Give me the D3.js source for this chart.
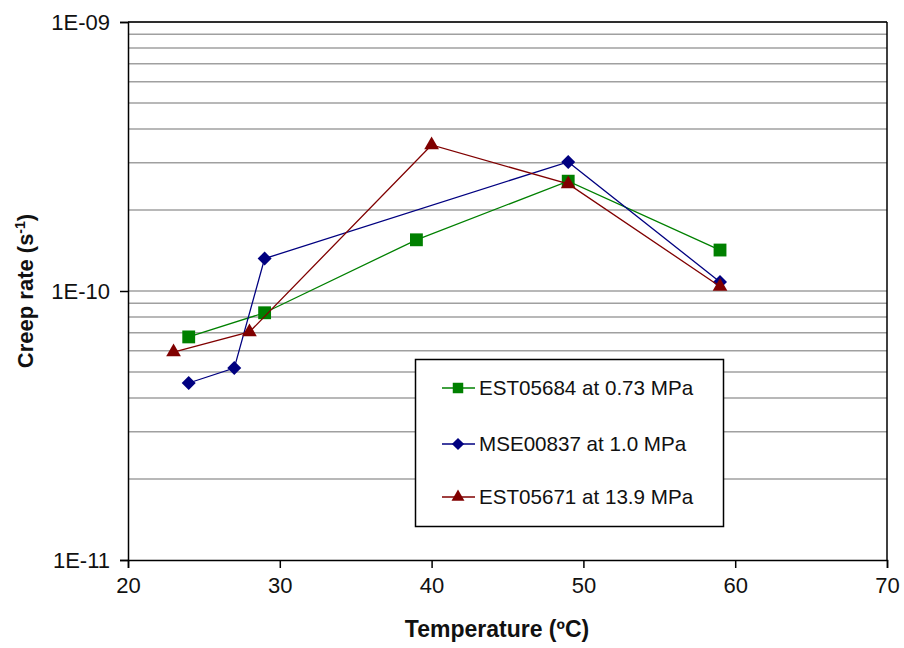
<!DOCTYPE html>
<html><head><meta charset="utf-8">
<script src="https://cdn.jsdelivr.net/npm/d3@7"></script>
<style>body{margin:0;background:#fff}svg{display:block;font-family:"Liberation Sans",Arial,sans-serif}</style>
</head><body><svg id="c" width="904" height="648"></svg>
<script>
const xTicks = [20, 30, 40, 50, 60, 70];
const yTicks = [1e-11, 1e-10, 1e-9];
const yTickLabels = ["1E-11", "1E-10", "1E-09"];
const seriesNames = ["EST05684 at 0.73 MPa", "MSE00837 at 1.0 MPa", "EST05671 at 13.9 MPa"];
const seriesColors = ["#008000", "#000080", "#800000"];
const seriesShapes = ["square", "diamond", "triangle"];
const estX1 = [24, 29, 39, 49, 59];
const estY1 = [6.75e-11, 8.3e-11, 1.55e-10, 2.56e-10, 1.42e-10];
const mseX = [24, 27, 29, 49, 59];
const mseY = [4.55e-11, 5.17e-11, 1.32e-10, 3.02e-10, 1.08e-10];
const estX2 = [23, 28, 40, 49, 59];
const estY2 = [5.93e-11, 7.04e-11, 3.49e-10, 2.5e-10, 1.04e-10];

const seriesX = [estX1, mseX, estX2];
const seriesY = [estY1, mseY, estY2];

const svg = d3.select("#c");
const L = 128, R = 887, T = 22, B = 560;
const x = d3.scaleLinear().domain([20, 70]).range([L, R]);
const y = d3.scaleLog().domain([1e-11, 1e-9]).range([B, T]);

// grid lines
const grid = [];
for (let d = -11; d < -9; d++) for (let m = 1; m <= 9; m++) grid.push(m * Math.pow(10, d));
grid.push(1e-9);
svg.append("g").selectAll("line").data(grid.filter(v => v > 1e-11)).join("line")
  .attr("x1", L).attr("x2", R).attr("y1", d => y(d)).attr("y2", d => y(d))
  .attr("stroke", "#a0a0a0").attr("stroke-width", 1.5);

// border
svg.append("line").attr("x1", R).attr("x2", R).attr("y1", T).attr("y2", B).attr("stroke", "#000").attr("stroke-width", 1.5);
svg.append("line").attr("x1", L).attr("x2", R).attr("y1", T).attr("y2", T).attr("stroke", "#000").attr("stroke-width", 1.5);

// axes
const xAxis = svg.append("g").attr("transform", `translate(0,${B})`)
  .call(d3.axisBottom(x).tickValues(xTicks).tickSize(8).tickPadding(9));
const yAxis = svg.append("g").attr("transform", `translate(${L},0)`)
  .call(d3.axisLeft(y).tickValues(yTicks).tickFormat((d, i) => yTickLabels[i]).tickSize(8).tickPadding(10));
[xAxis, yAxis].forEach(a => {
  a.select(".domain").attr("stroke", "#000").attr("stroke-width", 1.5);
  a.selectAll(".tick line").attr("stroke", "#000").attr("stroke-width", 1.5);
  a.selectAll("text").attr("font-size", 22).attr("fill", "#111").attr("font-family", "Liberation Sans, Arial, sans-serif");
});

// axis titles
svg.append("text").attr("x", 497).attr("y", 637).attr("text-anchor", "middle")
  .attr("font-size", 23).attr("font-weight", "bold").attr("fill", "#111").text("Temperature (ºC)");
const yt = svg.append("text").attr("transform", "translate(33,291) rotate(-90)").attr("text-anchor", "middle")
  .attr("font-size", 22).attr("font-weight", "bold").attr("fill", "#111");
yt.append("tspan").text("Creep rate (s");
yt.append("tspan").attr("font-size", 14).attr("dy", -8).text("-1");
yt.append("tspan").attr("dy", 8).text(")");

const symbolFor = (s, big) => s === "square" ? d3.symbol(d3.symbolSquare, big ? 165 : 110)
  : s === "diamond" ? d3.symbol(d3.symbolDiamond2, big ? 125 : 95) : d3.symbol(d3.symbolTriangle2, big ? 155 : 120);

const line = d3.line().x(d => x(d[0])).y(d => y(d[1]));
seriesNames.forEach((n, i) => {
  const pts = seriesX[i].map((v, j) => [v, seriesY[i][j]]);
  svg.append("path").attr("d", line(pts)).attr("fill", "none").attr("stroke", seriesColors[i]).attr("stroke-width", 1.3);
  svg.append("g").selectAll("path").data(pts).join("path")
    .attr("transform", d => `translate(${x(d[0])},${y(d[1])})`)
    .attr("d", symbolFor(seriesShapes[i], true)()).attr("fill", seriesColors[i]);
});

// legend
const lg = svg.append("g");
lg.append("rect").attr("x", 415.5).attr("y", 359.5).attr("width", 308).attr("height", 167)
  .attr("fill", "#fff").attr("stroke", "#000").attr("stroke-width", 1.5);
const rows = [388, 444, 497];
seriesNames.forEach((n, i) => {
  lg.append("line").attr("x1", 442).attr("x2", 475).attr("y1", rows[i]).attr("y2", rows[i])
    .attr("stroke", seriesColors[i]).attr("stroke-width", 1.3);
  lg.append("path").attr("transform", `translate(458,${rows[i]})`)
    .attr("d", symbolFor(seriesShapes[i], false)()).attr("fill", seriesColors[i]);
  lg.append("text").attr("x", 479).attr("y", rows[i] + 7).attr("font-size", 20.6).attr("fill", "#111").text(n);
});
</script></body></html>
